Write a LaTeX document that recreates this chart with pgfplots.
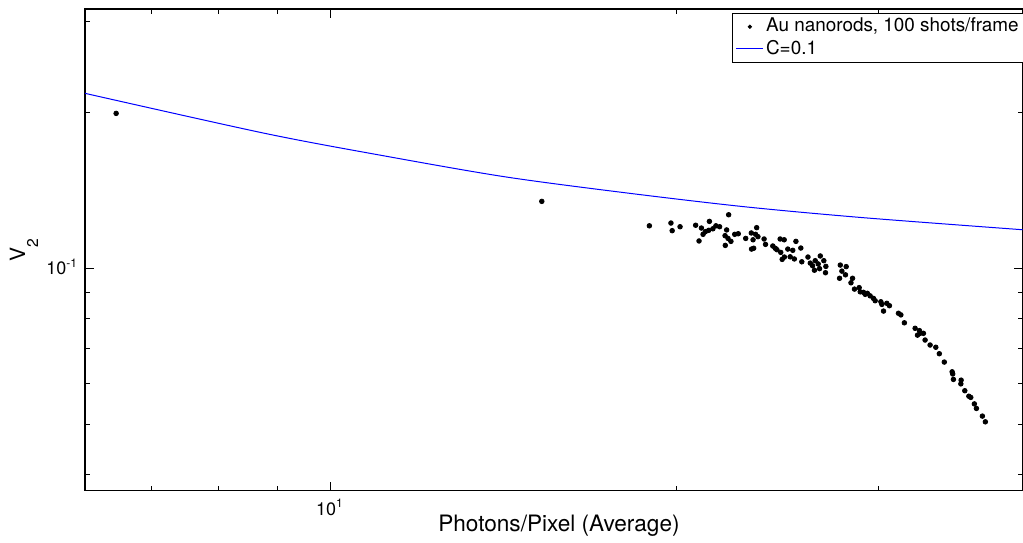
\documentclass[border=0pt]{standalone}
\usepackage{fontspec}
\setmainfont{TeX Gyre Heros}
\usepackage{pgfplots}
\pgfplotsset{compat=1.18}

\begin{document}
\begin{tikzpicture}
\begin{axis}[
  at={(0,0)}, anchor=south west,
  scale only axis,
  width=468.8pt, height=240.6pt,
  xmode=log, ymode=log,
  xmin=6.124, xmax=40,
  ymin=0.03719, ymax=0.3171,
  xtick={10}, xticklabels={10\textsuperscript{1}},
  ytick={0.1}, yticklabels={10\textsuperscript{-1}},
  minor xtick={7,8,9,20,30,40},
  minor ytick={0.04,0.05,0.06,0.07,0.08,0.09,0.2,0.3},
  major tick length=4.3pt, minor tick length=2.4pt,
  tick style={black, line width=0.5pt},
  axis line style={line width=0.9pt},
  tick label style={font=\fontsize{9}{10}\selectfont},
  xticklabel style={anchor=base, yshift=-12.5pt},
  yticklabel style={anchor=base east, yshift=-3.2pt},
  xlabel={Photons/Pixel (Average)},
  ylabel={V\lower6.5pt\hbox{\fontsize{7.8}{8}\selectfont 2}},
  every axis x label/.style={at={(axis description cs:0.5055,0)}, anchor=base,
    yshift=-20.25pt, inner sep=0pt, font=\fontsize{11.3}{12}\selectfont},
  every axis y label/.style={at={(axis description cs:-0.064,0.4755)}, rotate=90,
    anchor=base west, inner sep=0pt, font=\fontsize{10.5}{12}\selectfont},
  legend style={at={(0.6897,0.9917)}, anchor=north west,
    font=\fontsize{9.45}{11}\selectfont, inner xsep=1.8pt, inner ysep=0.8pt,
    nodes={inner sep=1pt, text height=7.2pt, text depth=2.2pt},
    fill=white, cells={anchor=west}},
  legend image code/.code={\draw[mark repeat=2,mark phase=2,#1]
    plot coordinates {(0pt,0pt) (6.75pt,0pt) (13.5pt,0pt)};},
]
% measured points
\addplot[forget plot, only marks, mark=*, mark size=1.15pt,
  mark options={draw=black, fill=black}] coordinates {
(6.518,0.1995) (15.28,0.1348)
(18.95,0.1209) (19.79,0.1224) (19.84,0.1183) (20.15,0.1204) (20.79,0.1212)
(21.03,0.1197) (20.93,0.1130) (21.10,0.1164) (21.20,0.1178) (21.37,0.1233)
(21.34,0.1185) (21.52,0.1193) (21.65,0.1209) (21.81,0.1204) (22.21,0.1270)
(22.12,0.1187) (22.05,0.1157) (22.18,0.1143) (22.31,0.1128) (22.06,0.1108)
(22.48,0.1164) (22.64,0.1167) (22.98,0.1143) (23.24,0.1171) (23.49,0.1199)
(23.32,0.1136) (23.44,0.1164) (23.55,0.1152) (23.25,0.1090) (23.35,0.1094)
(23.84,0.1140) (23.91,0.1113)
(24.62,0.1140) (24.82,0.1136) (25.41,0.1128) (24.26,0.1105) (24.38,0.1094)
(24.46,0.1087) (24.65,0.1074) (24.72,0.1041) (24.83,0.1052) (25.00,0.1090)
(25.25,0.1084) (25.66,0.1095) (25.12,0.1053) (25.33,0.1043) (25.71,0.1030)
(26.03,0.1052) (26.15,0.1024) (26.27,0.1012) (26.41,0.1035) (26.68,0.1057)
(26.57,0.1020) (26.37,0.0992) (26.64,0.0999) (26.87,0.1035) (26.98,0.1009)
(26.96,0.0981) (27.77,0.1015) (28.10,0.1008) (27.86,0.0988) (27.73,0.0957)
(28.06,0.0972)
(28.46,0.0957) (28.37,0.0938) (28.57,0.0912) (28.84,0.0918) (28.90,0.0901)
(29.09,0.0899) (29.19,0.0891) (29.32,0.0895) (29.48,0.0885) (29.68,0.0875)
(29.78,0.0866) (30.12,0.0862) (30.18,0.0852) (30.48,0.0856) (30.64,0.0847)
(30.28,0.0827) (31.20,0.0819) (31.35,0.0813)
(31.57,0.0785) (32.26,0.0766) (32.54,0.0758) (32.41,0.0743) (32.58,0.0749)
(32.80,0.0749) (32.91,0.0727) (33.24,0.0711) (33.62,0.0704) (33.86,0.0684)
(34.20,0.0659) (34.74,0.0631) (34.78,0.0625) (34.83,0.0610) (35.37,0.0608)
(35.35,0.0598) (35.63,0.0580) (35.92,0.0566) (36.06,0.0563) (36.32,0.0547)
(36.47,0.0536) (36.91,0.0518) (37.13,0.0505)
};
% C = 0.1 curve
\addplot[forget plot, draw=blue, line width=0.5pt, smooth] coordinates {
(6.124,0.2181) (8.779,0.1825) (11.16,0.1650) (14.19,0.1504)
(18.04,0.1401) (22.93,0.1316) (29.15,0.1253) (40.2,0.1187)
};
\addlegendimage{only marks, mark=*, mark size=0.85pt, mark options={draw=black, fill=black}}
\addlegendentry{Au nanorods, 100 shots/frame}
\addlegendimage{legend image code/.code={%
  \pgfsetlinewidth{0.7pt}\pgfsetstrokecolor{blue}%
  \pgfpathmoveto{\pgfpoint{0pt}{0.6pt}}\pgfpathlineto{\pgfpoint{13.5pt}{0.6pt}}%
  \pgfusepath{stroke}}}
\addlegendentry{C=0.1}
\end{axis}
\pgfresetboundingbox
\useasboundingbox (-42.5pt,-25.75pt) rectangle (469pt,245.25pt);
\end{tikzpicture}
\end{document}
